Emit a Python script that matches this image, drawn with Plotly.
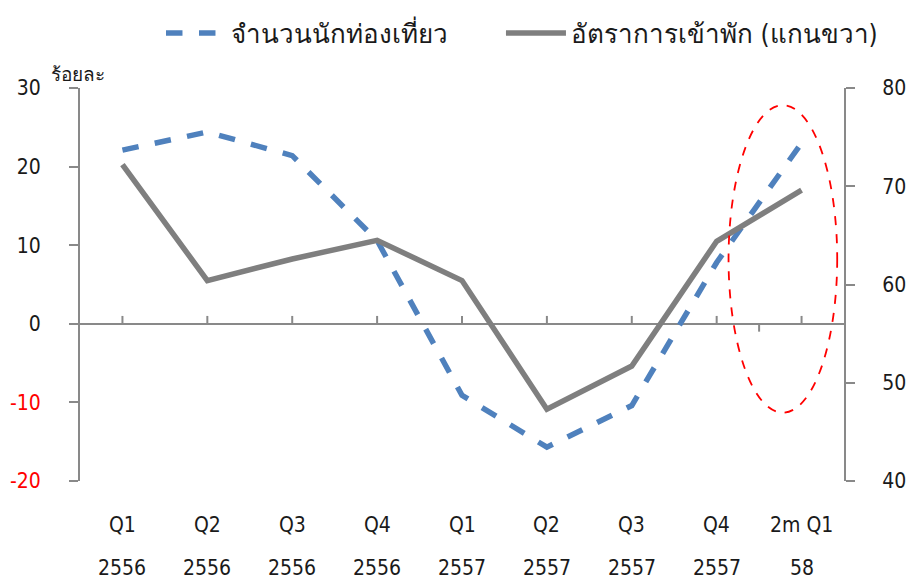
import plotly.graph_objects as go

categories = ["Q1 2556", "Q2 2556", "Q3 2556", "Q4 2556", "Q1 2557", "Q2 2557", "Q3 2557", "Q4 2557", "2m Q1 58"]
row1_labels = ["Q1", "Q2", "Q3", "Q4", "Q1", "Q2", "Q3", "Q4", "2m Q1"]
row2_labels = ["2556", "2556", "2556", "2556", "2557", "2557", "2557", "2557", "58"]
tourists = [22.1, 24.4, 21.4, 10.6, -9.1, -15.7, -10.4, 7.8, 23.0]
occupancy = [72.2, 60.4, 62.6, 64.5, 60.4, 47.3, 51.7, 64.4, 69.6]
left_ticks = [-20, -10, 0, 10, 20, 30]
right_ticks = [40, 50, 60, 70, 80]
name_tourists = "จำนวนนักท่องเที่ยว"
name_occ = "อัตราการเข้าพัก (แกนขวา)"

FONT = "Liberation Sans Narrow, DejaVu Sans Condensed, Noto Sans, sans-serif"
AX = "#898989"
TXT = "#1a1a1a"
x = list(range(len(categories)))

fig = go.Figure()
fig.add_trace(go.Scatter(x=x, y=tourists, name=name_tourists, mode="lines", legend="legend",
                         line=dict(color="#4f81bd", width=5.5, dash="dash")))
fig.add_trace(go.Scatter(x=x, y=occupancy, name=name_occ, mode="lines", yaxis="y2",
                         legend="legend2", line=dict(color="#7f7f7f", width=5.5)))

ticktext = [f"<span style='color:red'>{v}</span>" if v < 0 else str(v) for v in left_ticks]

shapes = []
for xi in x:
    shapes.append(dict(type="line", xref="x", yref="y", x0=xi, x1=xi, y0=0, y1=1.0,
                       line=dict(color=AX, width=2)))
mid = (x[-2] + x[-1]) / 2
shapes.append(dict(type="line", xref="x", yref="y", x0=mid, x1=mid, y0=0, y1=-1.0,
                   line=dict(color=AX, width=2)))
shapes.append(dict(type="circle", xref="x", yref="y", x0=7.14, x1=8.42, y0=-11.3, y1=27.8,
                   line=dict(color="red", width=1.8, dash="dash")))

annotations = [dict(text="ร้อยละ", xref="paper", yref="paper", x=-0.04, y=1.035, xanchor="left",
                    yanchor="middle", showarrow=False, font=dict(size=19, color=TXT))]
for xi, a, b in zip(x, row1_labels, row2_labels):
    annotations.append(dict(text=a, x=xi, xref="x", yref="paper", y=-0.112, yanchor="middle",
                            showarrow=False, font=dict(size=21, color=TXT)))
    annotations.append(dict(text=b, x=xi, xref="x", yref="paper", y=-0.221, yanchor="middle",
                            showarrow=False, font=dict(size=21, color=TXT)))

leg_common = dict(orientation="h", xanchor="left", yref="container", y=1 - 25 / 577,
                  yanchor="middle", font=dict(size=26), itemwidth=60)

fig.update_layout(
    width=906, height=577,
    margin=dict(l=72, r=70, t=80, b=104),
    paper_bgcolor="white", plot_bgcolor="white",
    font=dict(family=FONT, size=21, color=TXT),
    showlegend=True,
    legend=dict(x=0.106, **leg_common),
    legend2=dict(x=0.551, **leg_common),
    xaxis=dict(range=[-0.5, 8.5], showticklabels=False, ticks="", showgrid=False,
               zeroline=False, showline=False, automargin=False),
    yaxis=dict(range=[-20, 30], tickvals=left_ticks, ticktext=ticktext, showgrid=False,
               zeroline=True, zerolinecolor=AX, zerolinewidth=2, automargin=False,
               showline=True, linecolor=AX, linewidth=2, ticks="outside", ticklen=9,
               tickcolor=AX, tickwidth=2, ticklabelstandoff=24),
    yaxis2=dict(range=[40, 80], tickvals=right_ticks, overlaying="y", side="right",
                showgrid=False, zeroline=False, showline=True, linecolor=AX, linewidth=2,
                automargin=False,
                ticks="outside", ticklen=9, tickcolor=AX, tickwidth=2, ticklabelstandoff=23),
    shapes=shapes,
    annotations=annotations,
)
fig.write_html("out.html")
